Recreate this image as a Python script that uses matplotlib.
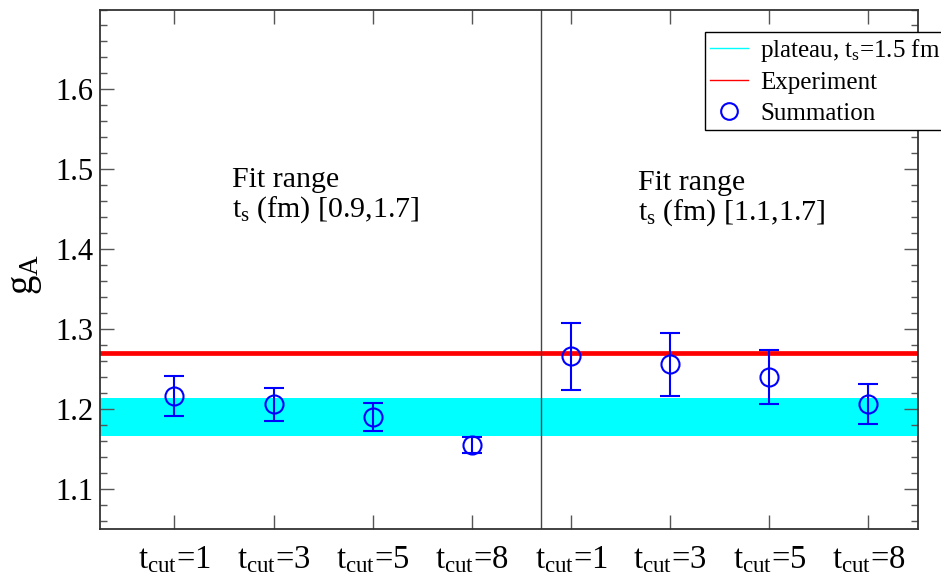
import numpy as np
import matplotlib
matplotlib.use("Agg")
import matplotlib.pyplot as plt
from matplotlib.ticker import MultipleLocator, FixedLocator
from matplotlib.lines import Line2D

plt.rcParams['font.family'] = ['Liberation Serif', 'DejaVu Serif']
plt.rcParams['mathtext.fontset'] = 'custom'
plt.rcParams['mathtext.rm'] = 'Liberation Serif'
plt.rcParams['mathtext.it'] = 'Liberation Serif:italic'

# ---- data ----
tcut_labels = ["1", "3", "5", "8", "1", "3", "5", "8"]
summation = [1.216, 1.206, 1.190, 1.155, 1.266, 1.256, 1.240, 1.207]
summation_err = [0.025, 0.021, 0.018, 0.010, 0.042, 0.039, 0.034, 0.025]
plateau_value = 1.190
plateau_err = 0.024
experiment_value = 1.270
separator_x = 4.7
fit_ranges = ["[0.9,1.7]", "[1.1,1.7]"]

x = np.arange(1, len(summation) + 1)

fig = plt.figure(figsize=(9.41, 5.78), dpi=100)
ax = fig.add_axes([100/941, 49/578, 818/941, 519.5/578])

ax.set_xlim(0.25, 8.5)
ax.set_ylim(1.05, 1.70)

# plateau band
ax.axhspan(plateau_value - plateau_err, plateau_value + plateau_err,
           color='#00ffff', lw=0, zorder=1)
# experiment line
ax.axhline(experiment_value, color='red', lw=3.4, zorder=2)
# separator
ax.axvline(separator_x, color='#444444', lw=1.0, zorder=2)

ax.errorbar(x, summation, yerr=summation_err, fmt='o', mfc='none', mec='blue',
            ms=13, mew=1.5, ecolor='blue', elinewidth=1.5, capsize=7,
            capthick=1.5, zorder=3)

# ticks
ax.xaxis.set_major_locator(FixedLocator(x))
ax.set_xticklabels([r"t$_{\mathrm{cut}}$=" + t for t in tcut_labels], fontsize=23.5)
ax.yaxis.set_minor_locator(MultipleLocator(0.02))
ax.set_yticks([1.1, 1.2, 1.3, 1.4, 1.5, 1.6])
ax.set_yticklabels(["1.1", "1.2", "1.3", "1.4", "1.5", "1.6"], fontsize=22)
ax.tick_params(axis='both', which='major', direction='in', length=10, width=1.0,
               color='#555555', top=True, right=True)
ax.tick_params(axis='both', which='minor', direction='in', length=5, width=1.0,
               color='#555555', top=True, right=True)
ax.tick_params(axis='x', pad=11)
ax.tick_params(axis='y', pad=5)
for s in ax.spines.values():
    s.set_linewidth(1.3)
    s.set_color('#333333')

ax.set_ylabel(r"g$_{\mathrm{A}}$", fontsize=28)
ax.yaxis.set_label_coords(-0.068, 0.49)

# annotations
ax.text(1.585, 1.503, "Fit range\n" + r"t$_{\mathrm{s}}$ (fm) " + fit_ranges[0],
        fontsize=21.5, va='top', ha='left', linespacing=1.05)
ax.text(5.68, 1.499, "Fit range\n" + r"t$_{\mathrm{s}}$ (fm) " + fit_ranges[1],
        fontsize=21.5, va='top', ha='left', linespacing=1.05)

# legend
handles = [Line2D([], [], color='#00ffff', lw=1.0),
           Line2D([], [], color='red', lw=1.0),
           Line2D([], [], ls='none', marker='o', mfc='none', mec='blue', ms=12, mew=1.5)]
labels = [r"plateau, t$_{\mathrm{s}}$=1.5 fm", "Experiment", "Summation"]
leg = fig.legend(handles, labels, loc='upper left',
                 bbox_to_anchor=(705/941, 1 - 31.5/578),
                 bbox_transform=fig.transFigure, fontsize=18, frameon=True,
                 fancybox=False, framealpha=1, edgecolor='black',
                 borderaxespad=0, borderpad=0.2, labelspacing=0.32,
                 handlelength=1.5, handletextpad=0.5)
leg.get_frame().set_linewidth(1.0)
leg.set_zorder(10)

fig.savefig("out.png", dpi=100, facecolor='white')
